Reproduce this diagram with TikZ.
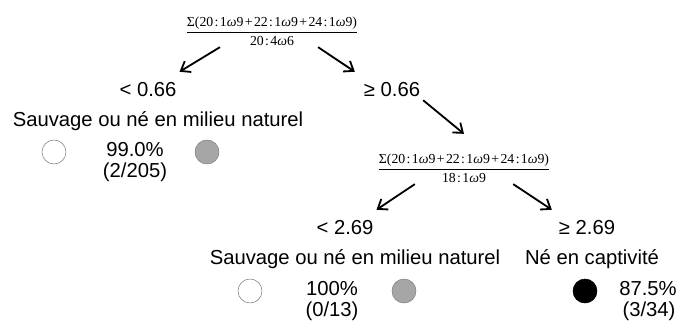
\documentclass[tikz,border=0pt]{standalone}
\usepackage{fontspec}
\setmainfont{Liberation Sans}
\newfontfamily\frmfont{Liberation Serif}
\usetikzlibrary{arrows.meta}
\tikzset{>={Straight Barb[length=6pt,width=9pt]}}
\newcommand{\rt}[3]{#1\kern1pt:\kern1pt#2\textit{ω}#3}

\begin{document}
\begin{tikzpicture}[x=0.025cm,y=-0.025cm,
    txt/.style={font=\fontsize{14.4}{17}\selectfont,inner sep=2pt},
    frm/.style={font=\fontsize{9.8}{11}\frmfont,inner sep=1pt},
    wcirc/.style={circle,draw=gray,fill=white,minimum size=0.6cm,inner sep=0pt},
    gcirc/.style={wcirc,fill=gray!70},
    bcirc/.style={wcirc,draw=black,fill=black},
    arr/.style={->,line width=1.3pt}]
    \useasboundingbox (0,0) rectangle (678,324);
    % first split
    \node[frm] (f1) at (272,31) {$\displaystyle\frac{\hbox{Σ(\rt{20}{1}{9}\kern1pt+\kern1pt\rt{22}{1}{9}\kern1pt+\kern1pt\rt{24}{1}{9})}}{\hbox{\rt{20}{4}{6}}}$};
    \node[txt] (lo1) at (148,90) {< 0.66};
    \node[txt] (hi1) at (392,90) {≥ 0.66};
    \node[txt] (lab1) at (158,121) {Sauvage ou né en milieu naturel};
    \node[wcirc] (c1w) at (54,152) {};
    \node[txt] (p1) at (135,150) {99.0\%};
    \node[txt] (n1) at (135,172) {(2/205)};
    \node[gcirc] (c1g) at (207,152) {};
    \draw[arr] ([xshift=-1.3cm]f1.south) -- ([yshift=0.2cm]lo1.north east);
    \draw[arr] ([xshift=1.15cm]f1.south) -- ([xshift=-0.15cm,yshift=0.2cm]hi1.north west);
    % second split
    \node[frm] (f2) at (464,168) {$\displaystyle\frac{\hbox{Σ(\rt{20}{1}{9}\kern1pt+\kern1pt\rt{22}{1}{9}\kern1pt+\kern1pt\rt{24}{1}{9})}}{\hbox{\rt{18}{1}{9}}}$};
    \draw[arr] (hi1.south east) -- ([yshift=0.45cm]f2.north);
    \node[txt] (lo2) at (345,228) {< 2.69};
    \node[txt] (hi2) at (587,228) {≥ 2.69};
    \node[txt] (lab2) at (355,259) {Sauvage ou né en milieu naturel};
    \node[txt] (lab3) at (592,259) {Né en captivité};
    \node[wcirc] (c2w) at (250,291) {};
    \node[txt] (p2) at (332,289) {100\%};
    \node[txt] (n2) at (332,311) {(0/13)};
    \node[gcirc] (c2g) at (404,291) {};
    \node[bcirc] (c3b) at (585,291) {};
    \node[txt] (p3) at (648,289) {87.5\%};
    \node[txt] (n3) at (649,311) {(3/34)};
    \draw[arr] ([xshift=-1.23cm]f2.south) -- ([yshift=0.2cm]lo2.north east);
    \draw[arr] ([xshift=1.23cm]f2.south) -- ([xshift=-0.1cm,yshift=0.2cm]hi2.north west);
\end{tikzpicture}
\end{document}
